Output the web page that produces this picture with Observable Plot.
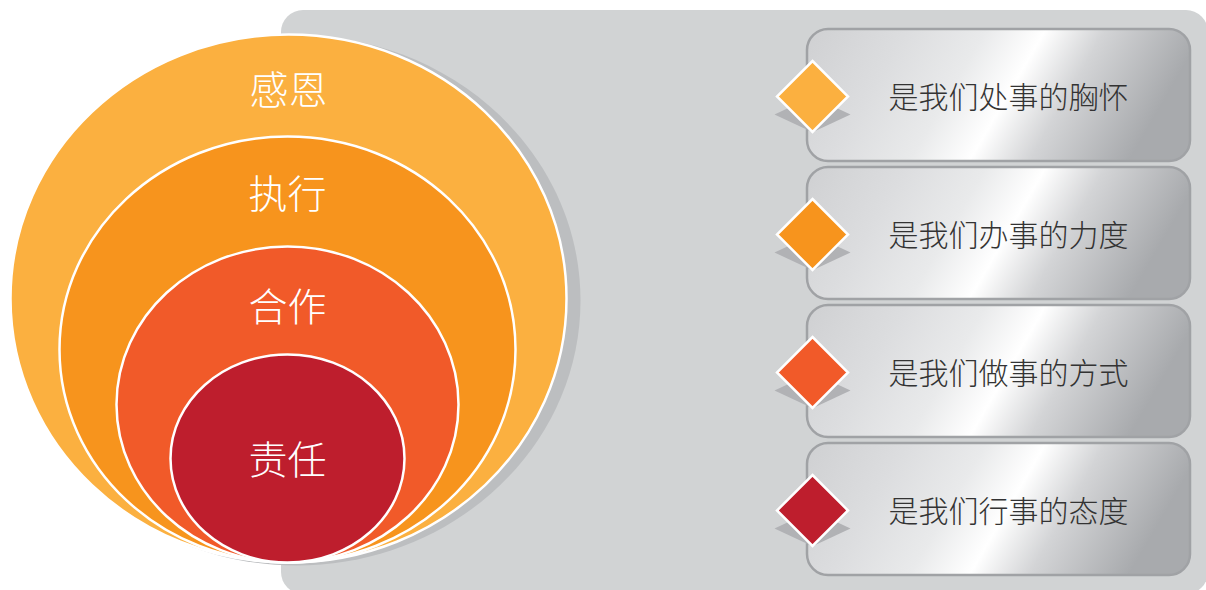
<!DOCTYPE html>
<html>
<head>
<meta charset="utf-8">
<script src="https://cdn.jsdelivr.net/npm/d3@7"></script>
<script src="https://cdn.jsdelivr.net/npm/@observablehq/plot@0.6"></script>
<style>
  html, body { margin: 0; padding: 0; background: #ffffff; }
  #chart svg { display: block; }
</style>
</head>
<body>
<div id="chart"></div>
<script>
// ---- content ----
const layers = ["感恩", "执行", "合作", "责任"];
const layerColors = ["#fbb040", "#f7941d", "#f15a29", "#be1e2d"];
const roles = ["是我们处事的胸怀", "是我们办事的力度", "是我们做事的方式", "是我们行事的态度"];

// ---- layout (pixels) ----
const W = 1206, H = 590;
const ellCx = [288, 287, 287, 287];
const ellCy = [298, 349, 404, 458];
const ellRx = [278, 228, 171, 117];
const ellRy = [264, 213, 158, 104];
const labelY = [91, 195, 308, 461];
const boxX1 = 807, boxX2 = 1190, boxTop0 = 29, boxH = 132, boxStep = 138;
const diamondX = 812, textX = 1008;

// ---- symbols ----
function ellipseSymbol(aspect) {
  const k = 0.5522847;
  return {
    draw(ctx, size) {
      const rx = Math.sqrt(size / Math.PI), ry = rx * aspect;
      ctx.moveTo(rx, 0);
      ctx.bezierCurveTo(rx, ry * k, rx * k, ry, 0, ry);
      ctx.bezierCurveTo(-rx * k, ry, -rx, ry * k, -rx, 0);
      ctx.bezierCurveTo(-rx, -ry * k, -rx * k, -ry, 0, -ry);
      ctx.bezierCurveTo(rx * k, -ry, rx, -ry * k, rx, 0);
      ctx.closePath();
    }
  };
}
function diamondSymbol(aspect) {
  return {
    draw(ctx, size) {
      const r = Math.sqrt(size / Math.PI), h = r * aspect;
      ctx.moveTo(0, -h); ctx.lineTo(r, 0); ctx.lineTo(0, h); ctx.lineTo(-r, 0); ctx.closePath();
    }
  };
}

const ellipses = layers.map((name, i) => ({name, color: layerColors[i], cx: ellCx[i], cy: ellCy[i], rx: ellRx[i], ry: ellRy[i], ly: labelY[i]}));
const boxes = roles.map((text, i) => ({text, color: layerColors[i], y1: boxTop0 + i * boxStep, y2: boxTop0 + i * boxStep + boxH, yc: boxTop0 + i * boxStep + boxH / 2 + 1}));

const font = "'Noto Sans CJK SC', 'Noto Sans', sans-serif";

const marks = [
  // gray panel
  Plot.rect([0], {x1: () => 281, x2: () => W + 2, y1: () => 10, y2: () => H + 4, fill: "#d1d3d4", rx: 22}),
  // ellipse shadow
  Plot.dot([ellipses[0]], {x: d => d.cx + 8, y: d => d.cy + 2, r: ellRx[0] + 6, symbol: ellipseSymbol((ellRy[0] + 1) / (ellRx[0] + 6)), fill: "#bcbec0", stroke: "none"}),
  // nested ellipses
  ...ellipses.map(e => Plot.dot([e], {x: "cx", y: "cy", r: e.rx, symbol: ellipseSymbol(e.ry / e.rx), fill: "color", stroke: "#ffffff", strokeWidth: 2.5})),
  Plot.text(ellipses, {x: "cx", y: "ly", text: "name", fill: "#ffffff", fontSize: 39, fontWeight: 300, fontFamily: font, textAnchor: "middle"}),
  // right boxes
  Plot.rect(boxes, {x1: () => boxX1, x2: () => boxX2, y1: "y1", y2: "y2", fill: "url(#silver)", stroke: "#a0a2a5", strokeWidth: 2.5, rx: 21}),
  Plot.dot(boxes, {x: () => diamondX, y: d => d.yc + 18, r: 38, symbol: diamondSymbol(0.47), fill: "#b1b2b5", stroke: "none"}),
  Plot.dot(boxes, {x: () => diamondX, y: "yc", r: 35.5, symbol: diamondSymbol(1), fill: "color", stroke: "#ffffff", strokeWidth: 2.5}),
  Plot.text(boxes, {x: () => textX, y: d => d.yc + 2, text: "text", fill: "#333333", fontSize: 30, fontWeight: 300, fontFamily: font, textAnchor: "middle"})
];

const chart = Plot.plot({
  width: W, height: H,
  margin: 0,
  x: {domain: [0, W], range: [0, W], axis: null},
  y: {domain: [0, H], range: [0, H], axis: null},
  style: {background: "#ffffff", overflow: "hidden"},
  marks
});

const defs = `<defs>
<linearGradient id="silver" x1="0" y1="0" x2="1" y2="0.2">
  <stop offset="0" stop-color="#cfd0d2"/>
  <stop offset="0.25" stop-color="#dcdddf"/>
  <stop offset="0.45" stop-color="#e9eaeb"/>
  <stop offset="0.6" stop-color="#ffffff"/>
  <stop offset="0.75" stop-color="#d3d4d6"/>
  <stop offset="1" stop-color="#a8aaad"/>
</linearGradient></defs>`;
d3.select(chart).insert("g", ":first-child").html(defs);
document.getElementById("chart").appendChild(chart);
</script>
</body>
</html>
